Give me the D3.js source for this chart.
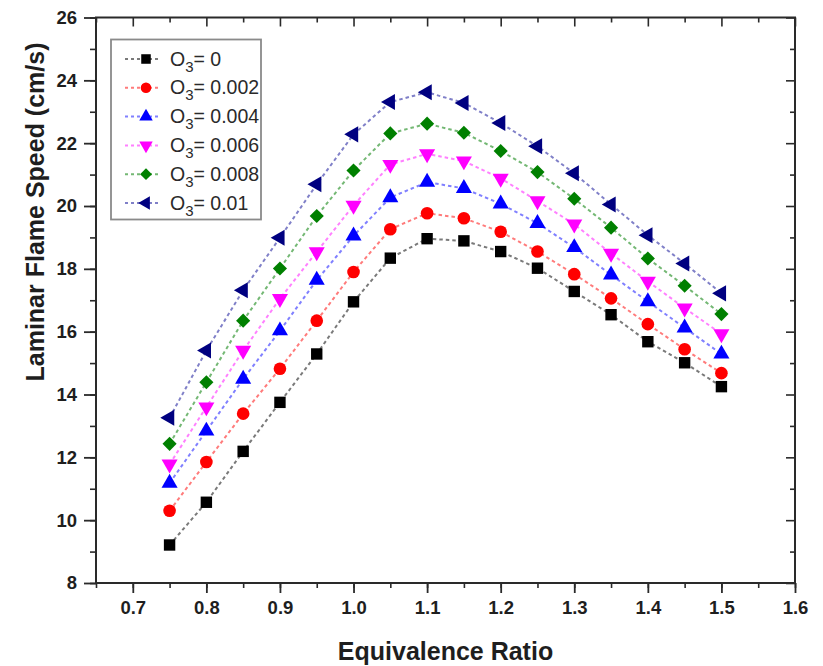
<!DOCTYPE html>
<html>
<head>
<meta charset="utf-8">
<script src="https://cdn.jsdelivr.net/npm/d3@7"></script>
<style>
  html, body { margin: 0; padding: 0; background: #fff; }
  svg { display: block; font-family: "Liberation Sans", Arial, sans-serif; }
</style>
</head>
<body>
<svg id="chart" width="823" height="666"></svg>
<script>
// Equivalence ratio (x values shared by every series)
const phi = [0.75, 0.8, 0.85, 0.9, 0.95, 1.0, 1.05, 1.1, 1.15, 1.2, 1.25, 1.3, 1.35, 1.4, 1.45, 1.5];

// Laminar flame speed (cm/s) for each ozone fraction
const s_o3_0    = [9.21, 10.57, 12.19, 13.75, 15.29, 16.95, 18.34, 18.96, 18.89, 18.55, 18.02, 17.28, 16.54, 15.68, 15.01, 14.25];
const s_o3_0002 = [10.30, 11.85, 13.39, 14.82, 16.35, 17.90, 19.26, 19.77, 19.61, 19.18, 18.55, 17.83, 17.06, 16.24, 15.44, 14.68];
const s_o3_0004 = [11.18, 12.84, 14.49, 16.03, 17.64, 19.05, 20.27, 20.76, 20.56, 20.07, 19.45, 18.68, 17.81, 16.96, 16.12, 15.29];
const s_o3_0006 = [11.78, 13.60, 15.40, 17.05, 18.54, 20.02, 21.32, 21.66, 21.43, 20.88, 20.16, 19.42, 18.49, 17.60, 16.75, 15.93];
const s_o3_0008 = [12.43, 14.39, 16.35, 18.01, 19.68, 21.13, 22.31, 22.62, 22.33, 21.75, 21.08, 20.23, 19.31, 18.33, 17.46, 16.56];
const s_o3_001  = [13.26, 15.40, 17.32, 18.99, 20.69, 22.28, 23.31, 23.62, 23.28, 22.64, 21.90, 21.04, 20.05, 19.07, 18.17, 17.22];

// Legend labels (value after "O3=")
const o3Labels = ["0", "0.002", "0.004", "0.006", "0.008", "0.01"];

// Axis ticks
const xTicks = [0.7, 0.8, 0.9, 1.0, 1.1, 1.2, 1.3, 1.4, 1.5, 1.6];
const yTicks = [8, 10, 12, 14, 16, 18, 20, 22, 24, 26];

const seriesValues = [s_o3_0, s_o3_0002, s_o3_0004, s_o3_0006, s_o3_0008, s_o3_001];

// Styling per series: marker colour, line colour, marker shape
const styles = [
  { fill: "#000000", line: "#7a7a7a", shape: "square" },
  { fill: "#ff0000", line: "#ff7b7b", shape: "circle" },
  { fill: "#0000ff", line: "#8080ff", shape: "up" },
  { fill: "#ff00ff", line: "#ff80ff", shape: "down" },
  { fill: "#008000", line: "#74b874", shape: "diamond" },
  { fill: "#000080", line: "#8080c8", shape: "left" }
];

const svg = d3.select("#chart");
const plotLeft = 96, plotRight = 795, plotTop = 17.5, plotBottom = 583;

const x = d3.scaleLinear().domain([0.65, 1.6]).range([plotLeft, plotRight]);
const y = d3.scaleLinear().domain([8, 26]).range([plotBottom, plotTop]);

function symbolPath(shape, scale) {
  const s = scale || 1;
  switch (shape) {
    case "square":  return { d: d3.symbol(d3.symbolSquare, 130 * s)(), rot: 0 };
    case "circle":  return { d: d3.symbol(d3.symbolCircle, 125 * s)(), rot: 0 };
    case "up":      return { d: d3.symbol(d3.symbolTriangle, 112 * s)(), rot: 0 };
    case "down":    return { d: d3.symbol(d3.symbolTriangle, 112 * s)(), rot: 180 };
    case "diamond": return { d: d3.symbol(d3.symbolSquare, 100 * s)(), rot: 45 };
    case "left":    return { d: d3.symbol(d3.symbolTriangle, 112 * s)(), rot: -90 };
  }
}

const axisColor = "#2a2a2a";
const textColor = "#1e1e1e";
const fontFam = "'Liberation Sans', Arial, sans-serif";

// Bottom axis (ticks outward) with minor ticks
const xMinor = d3.range(0.65, 1.6001, 0.05).map(v => +v.toFixed(2));
const gx = svg.append("g").attr("transform", `translate(0,${plotBottom})`)
  .call(d3.axisBottom(x).tickValues(xMinor).tickSize(5).tickFormat(""));
gx.selectAll(".tick line").attr("stroke", axisColor).attr("stroke-width", 1.6);
const gxMaj = svg.append("g").attr("transform", `translate(0,${plotBottom})`)
  .call(d3.axisBottom(x).tickValues(xTicks).tickSize(10).tickPadding(8).tickFormat(d3.format(".1f")));
gxMaj.selectAll(".tick line").attr("stroke", axisColor).attr("stroke-width", 1.8);
gxMaj.selectAll(".tick text").attr("fill", textColor).attr("font-size", 18.5).attr("font-weight", "bold")
  .attr("font-family", fontFam);

// Left axis (ticks outward) with minor ticks
const yMinor = d3.range(8, 26.001, 1);
const gy = svg.append("g").attr("transform", `translate(${plotLeft},0)`)
  .call(d3.axisLeft(y).tickValues(yMinor).tickSize(6).tickFormat(""));
gy.selectAll(".tick line").attr("stroke", axisColor).attr("stroke-width", 1.6);
const gyMaj = svg.append("g").attr("transform", `translate(${plotLeft},0)`)
  .call(d3.axisLeft(y).tickValues(yTicks).tickSize(12).tickPadding(7).tickFormat(d3.format("d")));
gyMaj.selectAll(".tick line").attr("stroke", axisColor).attr("stroke-width", 1.8);
gyMaj.selectAll(".tick text").attr("fill", textColor).attr("font-size", 18.5).attr("font-weight", "bold")
  .attr("font-family", fontFam);

// Top axis (ticks inward)
const gt = svg.append("g").attr("transform", `translate(0,${plotTop})`)
  .call(d3.axisBottom(x).tickValues(xMinor).tickSize(5).tickFormat(""));
gt.selectAll(".tick line").attr("stroke", axisColor).attr("stroke-width", 1.6)
  .attr("y2", d => xTicks.some(t => Math.abs(t - d) < 1e-6) ? 9 : 5);
// Right axis (ticks inward)
const gr = svg.append("g").attr("transform", `translate(${plotRight},0)`)
  .call(d3.axisLeft(y).tickValues(yMinor).tickSize(5).tickFormat(""));
gr.selectAll(".tick line").attr("stroke", axisColor).attr("stroke-width", 1.6)
  .attr("x2", d => d % 2 === 0 ? -9 : -5);
svg.selectAll(".domain").remove();

// Frame
svg.append("rect")
  .attr("x", plotLeft).attr("y", plotTop)
  .attr("width", plotRight - plotLeft).attr("height", plotBottom - plotTop)
  .attr("fill", "none").attr("stroke", axisColor).attr("stroke-width", 2);

// Axis titles
svg.append("text")
  .attr("x", (plotLeft + plotRight) / 2).attr("y", 660)
  .attr("text-anchor", "middle")
  .attr("font-size", 25).attr("font-weight", "bold").attr("fill", textColor)
  .text("Equivalence Ratio");

svg.append("text")
  .attr("transform", `translate(44,212) rotate(-90)`)
  .attr("text-anchor", "middle")
  .attr("font-size", 25).attr("font-weight", "bold").attr("fill", textColor)
  .text("Laminar Flame Speed (cm/s)");

// Series lines and markers
const line = d3.line().x((d, i) => x(phi[i])).y(d => y(d));
seriesValues.forEach((vals, k) => {
  const st = styles[k];
  svg.append("path")
    .attr("d", line(vals))
    .attr("fill", "none")
    .attr("stroke", st.line)
    .attr("stroke-width", 2)
    .attr("stroke-dasharray", "3.5,3");
  const sym = symbolPath(st.shape);
  svg.append("g").selectAll("path")
    .data(vals)
    .join("path")
    .attr("d", sym.d)
    .attr("transform", (d, i) => `translate(${x(phi[i])},${y(d)}) rotate(${sym.rot})`)
    .attr("fill", st.fill);
});

// Legend
const lg = svg.append("g");
lg.append("rect")
  .attr("x", 111).attr("y", 39.5).attr("width", 150).attr("height", 180)
  .attr("fill", "#fff").attr("stroke", "#8a8a8a").attr("stroke-width", 1.8);
o3Labels.forEach((lab, k) => {
  const st = styles[k];
  const cy = 59 + k * 28.8;
  lg.append("line")
    .attr("x1", 125).attr("x2", 160).attr("y1", cy).attr("y2", cy)
    .attr("stroke", st.line).attr("stroke-width", 2).attr("stroke-dasharray", "3,3");
  const sym = symbolPath(st.shape, 0.7);
  lg.append("path")
    .attr("d", sym.d)
    .attr("transform", `translate(146,${cy}) rotate(${sym.rot})`)
    .attr("fill", st.fill);
  const t = lg.append("text")
    .attr("x", 170).attr("y", cy + 6.5)
    .attr("font-size", 19.5).attr("fill", "#2a2a2a");
  t.append("tspan").text("O");
  t.append("tspan").attr("font-size", 15).attr("dy", 6).text("3");
  t.append("tspan").attr("dy", -6).text("= " + lab);
});
</script>
</body>
</html>
